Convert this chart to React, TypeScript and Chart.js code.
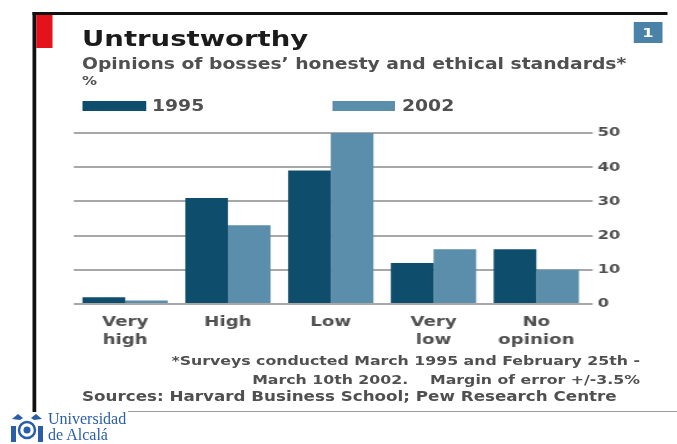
import React, { useEffect, useRef } from "react";
import { Chart, registerables } from "chart.js";

Chart.register(...registerables);

const categories: (string | string[])[] = [["Very", "high"], "High", "Low", ["Very", "low"], ["No", "opinion"]];
const seriesNames = ["1995", "2002"];
const values1995 = [2, 31, 39, 12, 16];
const values2002 = [1, 23, 50, 16, 10];
const seriesColors = ["#0f4d6d", "#5b8eab"];
const yTicks = [0, 10, 20, 30, 40, 50];

const FONT = "'DejaVu Sans', sans-serif";
const TEXT = "#505050";
const SX = 1.25; // horizontal stretch of the reference
const W = 677 / SX;

function abs(left: number, top: number, extra: React.CSSProperties = {}): React.CSSProperties {
  return { position: "absolute", left, top, margin: 0, whiteSpace: "pre", ...extra };
}

export default function App() {
  const canvasRef = useRef<HTMLCanvasElement | null>(null);

  useEffect(() => {
    if (!canvasRef.current) return;
    const chart = new Chart(canvasRef.current, {
      type: "bar",
      data: {
        labels: categories,
        datasets: [
          { label: seriesNames[0], data: values1995, backgroundColor: seriesColors[0], borderWidth: 0 },
          { label: seriesNames[1], data: values2002, backgroundColor: seriesColors[1], borderWidth: 0 },
        ],
      },
      options: {
        responsive: false,
        animation: false,
        devicePixelRatio: 1,
        layout: { padding: { left: 58.9, top: 13, right: 31.7, bottom: 6 } },
        datasets: { bar: { categoryPercentage: 0.83, barPercentage: 1 } },
        plugins: { legend: { display: false }, tooltip: { enabled: false } },
        scales: {
          x: {
            grid: { display: false, drawTicks: false },
            border: { display: false },
            ticks: {
              color: TEXT,
              font: { family: FONT, size: 14.5, weight: "bold", lineHeight: 1.2 },
              padding: 10,
              maxRotation: 0,
              autoSkip: false,
            },
            afterFit: (s: any) => { s.height = 50; },
          },
          y: {
            position: "right",
            min: 0,
            max: 50,
            afterBuildTicks: (s: any) => { s.ticks = yTicks.map((v) => ({ value: v })); },
            grid: { color: "#a8a8a8", lineWidth: 2, drawTicks: true, tickLength: 4 },
            border: { display: false },
            ticks: { color: TEXT, font: { family: FONT, size: 13, weight: "bold" }, padding: 4 },
            afterFit: (s: any) => { s.width = 40; },
          },
        },
      },
    });
    return () => chart.destroy();
  }, []);

  return (
    <div style={{ position: "absolute", left: 0, top: 0, width: 677, height: 444, background: "#fff", overflow: "hidden" }}>
      <div
        style={{
          position: "absolute",
          left: 0,
          top: 0,
          width: W,
          height: 444,
          transform: `scaleX(${SX})`,
          transformOrigin: "0 0",
          fontFamily: FONT,
        }}
      >
        {/* frame */}
        <div style={abs(26.4, 12, { width: 2.4, height: 400, background: "#111" })} />
        <div style={abs(26.4, 12, { width: 508, height: 3, background: "#111" })} />
        <div style={abs(28.8, 15, { width: 13.6, height: 33, background: "#e3121b" })} />
        <div
          style={abs(507.2, 22, {
            width: 22.4,
            height: 21,
            background: "#4a83a7",
            color: "#fff",
            fontWeight: "bold",
            fontSize: 13,
            lineHeight: "21px",
            textAlign: "center",
          })}
        >
          1
        </div>

        {/* titles */}
        <div style={abs(65.6, 28.4, { fontSize: 22, lineHeight: "22px", fontWeight: "bold", color: "#1b1b1b" })}>
          Untrustworthy
        </div>
        <div style={abs(65.6, 56.5, { fontSize: 15, lineHeight: "15px", fontWeight: "bold", color: TEXT })}>
          Opinions of bosses’ honesty and ethical standards*
        </div>
        <div style={abs(65.6, 75, { fontSize: 12, lineHeight: "12px", fontWeight: "bold", color: TEXT })}>%</div>

        {/* legend */}
        <div style={abs(66.4, 101, { width: 50.4, height: 10, background: seriesColors[0] })} />
        <div style={abs(121.6, 99.3, { fontSize: 15, lineHeight: "15px", fontWeight: "bold", color: TEXT })}>
          {seriesNames[0]}
        </div>
        <div style={abs(266.4, 101, { width: 49.6, height: 10, background: seriesColors[1] })} />
        <div style={abs(321.6, 99.3, { fontSize: 15, lineHeight: "15px", fontWeight: "bold", color: TEXT })}>
          {seriesNames[1]}
        </div>

        {/* chart */}
        <canvas
          ref={canvasRef}
          width={W}
          height={240}
          style={{ position: "absolute", left: 0, top: 120, width: W, height: 240 }}
        />

        {/* footnotes */}
        <div
          style={{
            position: "absolute",
            right: W - 512,
            top: 350.5,
            fontSize: 12.6,
            lineHeight: "19px",
            fontWeight: "bold",
            color: TEXT,
            textAlign: "right",
            whiteSpace: "pre",
          }}
        >
          {"*Surveys conducted March 1995 and February 25th -\nMarch 10th 2002.    Margin of error +/-3.5%"}
        </div>
        <div style={abs(65.6, 390, { fontSize: 13.4, lineHeight: "13.4px", fontWeight: "bold", color: TEXT })}>
          Sources: Harvard Business School; Pew Research Centre
        </div>
      </div>

      {/* bottom rule and logo */}
      <div style={abs(128, 411, { width: 549, height: 1, background: "#9a9a9a" })} />
      <svg style={{ position: "absolute", left: 8, top: 412 }} width={38} height={32} viewBox="0 0 38 32">
        <g fill="#2a5ea8">
          <path d="M4 7 L10 2 L15 6 L12 8 Z" />
          <path d="M34 7 L28 2 L23 6 L26 8 Z" />
          <rect x="3" y="14" width="5" height="16" />
          <rect x="30" y="14" width="5" height="16" />
        </g>
        <circle cx="19" cy="18" r="8" fill="none" stroke="#2a5ea8" strokeWidth="2.5" />
        <circle cx="19" cy="18" r="3.5" fill="#2a5ea8" />
      </svg>
      <div
        style={abs(48, 411, {
          fontFamily: "'Liberation Serif', serif",
          fontSize: 16,
          lineHeight: "16px",
          color: "#2a5ea8",
        })}
      >
        {"Universidad\nde Alcalá"}
      </div>
    </div>
  );
}
